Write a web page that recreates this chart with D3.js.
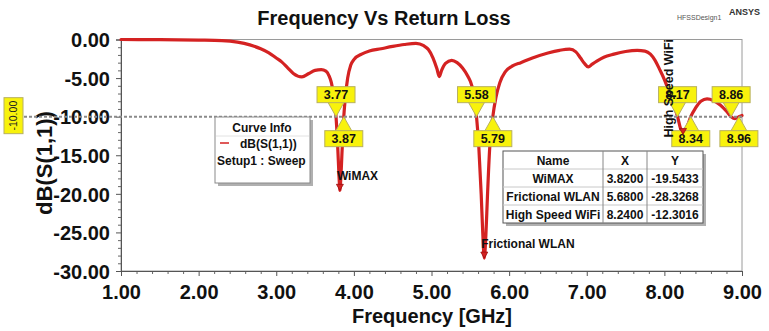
<!DOCTYPE html>
<html>
<head>
<meta charset="utf-8">
<script src="https://cdn.jsdelivr.net/npm/d3@7/dist/d3.min.js"></script>
<style>
  html, body { margin: 0; padding: 0; background: #fff; }
  svg { display: block; font-family: "Liberation Sans", Arial, sans-serif; }
</style>
</head>
<body>
<svg id="chart" width="769" height="331"></svg>
<script>
// Swept S11 response (frequency in GHz, return loss in dB)
const freqGHz = [
  1.00, 1.50, 2.00, 2.30, 2.50, 2.66, 2.80, 2.90, 3.00, 3.07, 3.15, 3.22, 3.33, 3.42, 3.50, 3.58,
  3.64, 3.68, 3.71, 3.74, 3.77, 3.79, 3.81, 3.82, 3.83, 3.85, 3.87, 3.89, 3.92, 3.96, 4.00,
  4.10, 4.20, 4.35, 4.50, 4.65, 4.80, 4.90, 4.96, 5.02, 5.07, 5.10, 5.13, 5.18, 5.26, 5.33,
  5.40, 5.47, 5.52, 5.55, 5.58, 5.61, 5.64, 5.66, 5.68, 5.70, 5.72, 5.75, 5.79, 5.83, 5.88,
  5.95, 6.05, 6.15, 6.30, 6.50, 6.65, 6.78, 6.86, 6.92, 6.97, 7.02, 7.07, 7.13, 7.22, 7.35,
  7.50, 7.65, 7.75, 7.82, 7.88, 7.94, 8.00, 8.05, 8.10, 8.17, 8.21, 8.24, 8.27, 8.30, 8.34,
  8.40, 8.47, 8.55, 8.63, 8.72, 8.80, 8.86, 8.91, 8.96, 9.00
];
const s11dB = [
  0.00, -0.02, -0.08, -0.15, -0.35, -0.70, -1.20, -1.70, -2.40, -2.90, -3.70, -4.40, -4.85, -4.40, -4.00, -3.90,
  -4.10, -4.70, -5.60, -7.30, -10.00, -13.50, -18.00, -19.5433, -18.30, -14.00, -10.00, -7.50, -5.00, -3.30, -2.60,
  -1.90, -1.50, -1.20, -0.90, -0.65, -0.50, -0.80, -1.30, -2.40, -3.80, -4.80, -4.00, -3.10, -2.70, -3.00,
  -3.70, -4.80, -6.00, -7.50, -10.00, -14.00, -20.00, -25.00, -28.3268, -25.50, -20.50, -14.00, -10.00, -7.50, -5.60,
  -4.20, -3.40, -3.00, -2.40, -1.75, -1.40, -1.25, -1.60, -2.40, -3.10, -3.55, -3.20, -2.80, -2.30, -1.90,
  -1.55, -1.40, -1.50, -1.90, -2.70, -3.90, -5.20, -6.50, -7.90, -10.00, -11.60, -12.3016, -11.90, -11.10, -10.00,
  -8.90, -8.00, -7.70, -7.90, -8.50, -9.30, -10.00, -10.25, -10.00, -9.85
];

// Axis ticks
const xTicks = [1, 2, 3, 4, 5, 6, 7, 8, 9];
const yTicks = [0, -5, -10, -15, -20, -25, -30];

// -10 dB reference crossings (placement of the flag relative to the line)
const crossFreq = [3.77, 3.87, 5.58, 5.79, 8.17, 8.34, 8.86, 8.96];
const crossSide = ["up", "down", "up", "down", "up", "down", "up", "down"];
const refLevel = -10;

// Named markers
const markerNames = ["WiMAX", "Frictional WLAN", "High Speed WiFi"];
const markerX = [3.82, 5.68, 8.24];
const markerY = [-19.5433, -28.3268, -12.3016];
const markerVertical = [false, false, true];

const legendLines = ["dB(S(1,1))", "Setup1 : Sweep"];

// Fixed-point formatting with a plain hyphen for negatives
const fmt2 = v => v.toFixed(2);
const fmt4 = v => v.toFixed(4);

const svg = d3.select("#chart");
const W = 769, H = 331;
const plotL = 121, plotR = 742, plotT = 39.5, plotB = 271;

const x = d3.scaleLinear().domain([1, 9]).range([plotL, plotR]);
const y = d3.scaleLinear().domain([-30, 0]).range([plotB, plotT]);

svg.append("rect").attr("width", W).attr("height", H).attr("fill", "#fff");

// Title and header texts
svg.append("text").attr("x", 384).attr("y", 25).attr("text-anchor", "middle")
  .attr("font-size", 20).attr("font-weight", "bold").attr("fill", "#111")
  .text("Frequency Vs Return Loss");
svg.append("text").attr("x", 677).attr("y", 20).attr("font-size", 7).attr("fill", "#555")
  .text("HFSSDesign1");
svg.append("text").attr("x", 729).attr("y", 15).attr("font-size", 9).attr("font-weight", "bold").attr("fill", "#333")
  .text("ANSYS");

// Plot frame
svg.append("rect").attr("x", plotL).attr("y", plotT).attr("width", plotR - plotL).attr("height", plotB - plotT)
  .attr("fill", "none").attr("stroke", "#9a9a9a").attr("stroke-width", 1);

// Minor ticks
const xMinor = d3.range(1, 9.001, 0.2).filter(v => Math.abs(v - Math.round(v)) > 1e-6);
const yMinor = d3.range(-30, 0.001, 1).filter(v => v % 5 !== 0);

const gxMinor = svg.append("g").attr("transform", `translate(0,${plotB})`)
  .call(d3.axisBottom(x).tickValues(xMinor).tickSize(3).tickFormat(""));
const gyMinor = svg.append("g").attr("transform", `translate(${plotL},0)`)
  .call(d3.axisLeft(y).tickValues(yMinor).tickSize(3).tickFormat(""));
[gxMinor, gyMinor].forEach(g => {
  g.select(".domain").remove();
  g.selectAll("line").attr("stroke", "#666");
});

const gx = svg.append("g").attr("transform", `translate(0,${plotB})`)
  .call(d3.axisBottom(x).tickValues(xTicks).tickSize(5).tickPadding(9).tickFormat(fmt2));
const gy = svg.append("g").attr("transform", `translate(${plotL},0)`)
  .call(d3.axisLeft(y).tickValues(yTicks).tickSize(5).tickPadding(6).tickFormat(fmt2));
[gx, gy].forEach(g => {
  g.select(".domain").attr("stroke", "#555");
  g.selectAll("line").attr("stroke", "#555");
  g.selectAll("text").attr("font-size", 20).attr("font-weight", "bold").attr("fill", "#111")
    .attr("font-family", "'Liberation Sans', Arial, sans-serif");
});
gy.selectAll("text").attr("dy", "0.36em");

// Axis titles
svg.append("text").attr("x", 432).attr("y", 323).attr("text-anchor", "middle")
  .attr("font-size", 20).attr("font-weight", "bold").attr("fill", "#111")
  .text("Frequency [GHz]");
svg.append("text").attr("transform", "translate(52,163) rotate(-90)").attr("text-anchor", "middle")
  .attr("font-size", 22).attr("font-weight", "bold").attr("fill", "#111")
  .text("dB(S(1,1))");

// Curve
const pts = freqGHz.map((f, i) => [f, s11dB[i]]);
const line = d3.line().x(d => x(d[0])).y(d => y(d[1])).curve(d3.curveMonotoneX);
svg.append("path").datum(pts).attr("d", line)
  .attr("fill", "none").attr("stroke", "#d42222").attr("stroke-width", 3.2)
  .attr("stroke-linejoin", "round").attr("stroke-linecap", "round");

// -10 dB reference line
svg.append("line").attr("x1", 24).attr("x2", plotR).attr("y1", y(refLevel)).attr("y2", y(refLevel))
  .attr("stroke", "#8a8a8a").attr("stroke-width", 2).attr("stroke-dasharray", "3,2");

// Reference level tag on the left
const tagY = y(refLevel);
svg.append("rect").attr("x", 4).attr("y", tagY - 19).attr("width", 19).attr("height", 36)
  .attr("fill", "#f8f20c").attr("stroke", "#b8b060").attr("stroke-width", 1);
svg.append("text").attr("transform", `translate(17,${tagY - 1}) rotate(-90)`).attr("text-anchor", "middle")
  .attr("font-size", 10.5).attr("fill", "#222").text(fmt2(refLevel));

// Crossing flags
const flagW = 38, flagH = 16, gap = 14, triHalf = 9;
crossFreq.forEach((f, i) => {
  const px = x(f), py = y(refLevel);
  const g = svg.append("g");
  const sgn = crossSide[i] === "up" ? -1 : 1;
  const edge = py + sgn * gap;
  const boxTop = sgn < 0 ? edge - flagH : edge;
  g.append("path")
    .attr("d", `M${px - triHalf},${edge + sgn * 2}L${px},${py}L${px + triHalf},${edge + sgn * 2}Z`)
    .attr("fill", "#f8f20c").attr("stroke", "#b8b060").attr("stroke-width", 1);
  g.append("rect").attr("x", px - flagW / 2).attr("y", boxTop).attr("width", flagW).attr("height", flagH)
    .attr("fill", "#f8f20c").attr("stroke", "#b8b060").attr("stroke-width", 1);
  g.append("text").attr("x", px).attr("y", boxTop + 12.5).attr("text-anchor", "middle")
    .attr("font-size", 12.5).attr("font-weight", "bold").attr("fill", "#111")
    .text(fmt2(f));
});

// Named marker symbols and labels
markerX.forEach((mx, i) => {
  const px = x(mx), py = y(markerY[i]);
  svg.append("path").attr("d", `M${px - 3.5},${py - 6}L${px + 3.5},${py - 6}L${px},${py}Z`)
    .attr("fill", "#d42222").attr("stroke", "#9a1010").attr("stroke-width", 0.8);
  if (markerVertical[i]) {
    svg.append("text").attr("transform", `translate(${px - 10},${py + 3}) rotate(-90)`)
      .attr("font-size", 12.5).attr("font-weight", "bold").attr("fill", "#111").text(markerNames[i]);
  } else {
    svg.append("text").attr("x", px - 3).attr("y", py - 10)
      .attr("font-size", 12).attr("font-weight", "bold").attr("fill", "#111").text(markerNames[i]);
  }
});

// Curve info legend
const lg = svg.append("g");
lg.append("rect").attr("x", 218).attr("y", 120).attr("width", 95).attr("height", 66).attr("fill", "#b0b0b0");
lg.append("rect").attr("x", 215).attr("y", 117).attr("width", 95).attr("height", 66)
  .attr("fill", "#fff").attr("stroke", "#8a8a8a").attr("stroke-width", 1);
lg.append("text").attr("x", 262).attr("y", 132).attr("text-anchor", "middle")
  .attr("font-size", 12).attr("font-weight", "bold").attr("fill", "#111").text("Curve Info");
lg.append("line").attr("x1", 216).attr("x2", 309).attr("y1", 136).attr("y2", 136)
  .attr("stroke", "#e2e2e2").attr("stroke-width", 1);
lg.append("line").attr("x1", 220).attr("x2", 229).attr("y1", 143).attr("y2", 143)
  .attr("stroke", "#d42222").attr("stroke-width", 1.5);
lg.append("text").attr("x", 240).attr("y", 148)
  .attr("font-size", 12).attr("font-weight", "bold").attr("fill", "#111").text(legendLines[0]);
lg.append("text").attr("x", 217).attr("y", 165)
  .attr("font-size", 12).attr("font-weight", "bold").attr("fill", "#111").text(legendLines[1]);

// Marker table
const colX = [503, 603, 647, 703];
const rowY = [151, 169, 187, 205, 223];
const tableRows = [["Name", "X", "Y"]].concat(
  markerNames.map((n, i) => [n, fmt4(markerX[i]), fmt4(markerY[i])])
);
const tg = svg.append("g");
tg.append("rect").attr("x", colX[0] + 3).attr("y", rowY[0] + 3)
  .attr("width", colX[3] - colX[0]).attr("height", rowY[4] - rowY[0]).attr("fill", "#b0b0b0");
tg.append("rect").attr("x", colX[0]).attr("y", rowY[0])
  .attr("width", colX[3] - colX[0]).attr("height", rowY[4] - rowY[0])
  .attr("fill", "#fff").attr("stroke", "#555").attr("stroke-width", 1);
rowY.slice(1, 4).forEach(ry => tg.append("line").attr("x1", colX[0]).attr("x2", colX[3])
  .attr("y1", ry).attr("y2", ry).attr("stroke", "#c8c8c8"));
colX.slice(1, 3).forEach(cx => tg.append("line").attr("x1", cx).attr("x2", cx)
  .attr("y1", rowY[0]).attr("y2", rowY[4]).attr("stroke", "#888"));
tableRows.forEach((row, r) => {
  row.forEach((cell, c) => {
    tg.append("text").attr("x", (colX[c] + colX[c + 1]) / 2).attr("y", rowY[r] + 13.5)
      .attr("text-anchor", "middle").attr("font-size", 12).attr("font-weight", "bold")
      .attr("fill", "#111").text(cell);
  });
});
</script>
</body>
</html>
